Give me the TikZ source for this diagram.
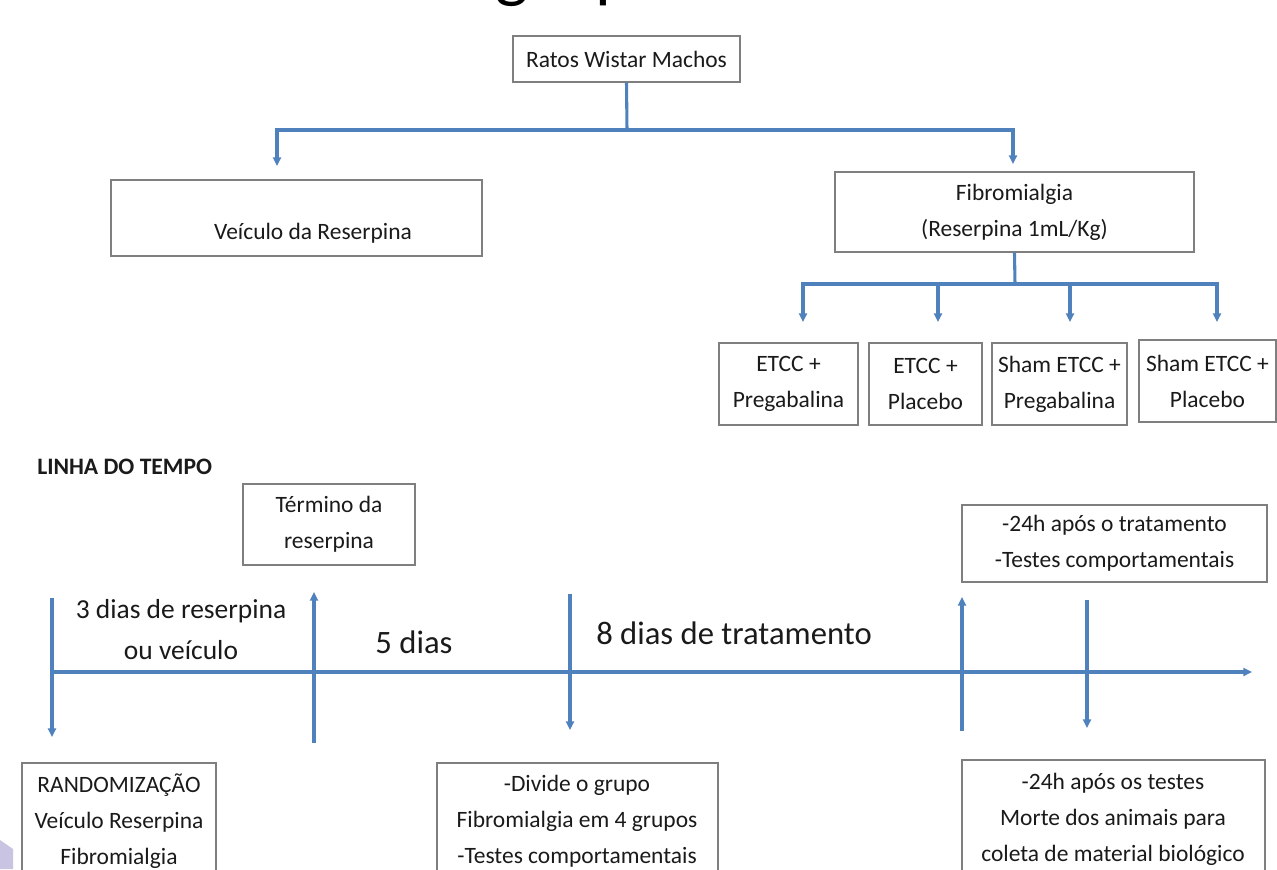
\documentclass[tikz,border=0pt]{standalone}
\usepackage{fontspec}
\setmainfont{Carlito}
\usetikzlibrary{arrows.meta,calc}
\definecolor{lineblue}{HTML}{4F81BD}
\definecolor{boxgray}{HTML}{7F7F7F}
\definecolor{lav}{HTML}{C9C4E2}
\definecolor{ink}{HTML}{1A1A1A}
\begin{document}
\begin{tikzpicture}[x=0.75pt,y=-0.75pt,
  box/.style={draw=boxgray, line width=1pt, inner sep=0pt, align=center, text=ink,
    font=\fontsize{17.6}{27}\selectfont},
  txt/.style={align=center, inner sep=0pt, text=ink, font=\fontsize{17.6}{27}\selectfont},
  big/.style={align=center, inner sep=0pt, text=ink, font=\fontsize{20.6}{30.75}\selectfont},
  bigger/.style={align=center, inner sep=0pt, text=ink, font=\fontsize{24.5}{30}\selectfont},
  titlefont/.style={anchor=base, inner sep=0pt, text=black, font=\fontsize{53}{53}\selectfont},
  conn/.style={draw=lineblue, line width=2.3pt},
  arr/.style={conn, -{Triangle[length=6.5pt,width=6pt]}},
]
\useasboundingbox (0,0) rectangle (1277,869);
\clip (0,0) rectangle (1277,869);

% cut-off title (only descenders visible)
\node[titlefont] (tg) at (512,-6) {g};
\node[titlefont] (tp) at (614,-6) {p};

% lavender corner shape
\fill[lav] (0,840) -- (13,849) -- (13,869) -- (0,869) -- cycle;

% ---- group tree ----
\node[box, minimum width=170.25pt, minimum height=34.5pt] (ratos) at (626.5,59) {Ratos Wistar Machos};
\node[box, minimum width=278.25pt, minimum height=57pt] (veic) at (296.5,218) {};
\node[txt] (veictext) at (313,233) {Veículo da Reserpina};
\node[box, minimum width=269.25pt, minimum height=60pt] (fibro) at (1014.5,212) {Fibromialgia\\(Reserpina 1mL/Kg)};

\node[box, minimum width=104.25pt, minimum height=61.5pt] (g1) at (788.5,384) {ETCC +\\Pregabalina};
\node[box, minimum width=84.75pt, minimum height=61.5pt] (g2) at (925.5,384) {ETCC +\\Placebo};
\node[box, minimum width=101.25pt, minimum height=61.5pt] (g3) at (1059.5,384) {Sham ETCC +\\Pregabalina};
\node[box, minimum width=102.75pt, minimum height=61.5pt] (g4) at (1207.5,381) {Sham ETCC +\\Placebo};

\coordinate (j1) at (627,130);
\coordinate (va) at (277,166);
\coordinate (fa) at (1013,164);
\draw[conn] (ratos.south) -- (j1);
\draw[arr] (j1) -| (va);
\draw[arr] (j1) -| (fa);

\coordinate (j2) at (1015,284);
\coordinate (a1) at (803,322);
\coordinate (a2) at (938,322);
\coordinate (a3) at (1070,322);
\coordinate (a4) at (1217,322);
\draw[conn] (fibro.south) -- (j2);
\draw[arr] (j2) -| (a1);
\draw[arr] (j2) -| (a2);
\draw[arr] (j2) -| (a3);
\draw[arr] (j2) -| (a4);

% ---- timeline ----
\node[anchor=west, inner sep=0pt, text=ink, font=\bfseries\fontsize{17.7}{20}\selectfont] (lt) at (37,467) {LINHA DO TEMPO};

\node[box, minimum width=129pt, minimum height=60.75pt] (term) at (329,524.5) {Término da\\reserpina};
\node[box, minimum width=228.75pt, minimum height=57.75pt] (trat) at (1114.5,543.5) {-24h após o tratamento\\-Testes comportamentais};

\coordinate (t0) at (52,672);
\coordinate (t1) at (1252,672);
\draw[arr] (t0) -- (t1);

\coordinate (v1a) at (52,598);  \coordinate (v1b) at (52,737);
\coordinate (v2a) at (314,743); \coordinate (v2b) at (314,592);
\coordinate (v3a) at (570,594); \coordinate (v3b) at (570,730);
\coordinate (v4a) at (962,731); \coordinate (v4b) at (962,597);
\coordinate (v5a) at (1087,600);\coordinate (v5b) at (1087,728);
\draw[arr] (v1a) -- (v1b);
\draw[arr] (v2a) -- (v2b);
\draw[arr] (v3a) -- (v3b);
\draw[arr] (v4a) -- (v4b);
\draw[arr] (v5a) -- (v5b);

\node[big] (l3) at (181,630) {3 dias de reserpina\\ou veículo};
\node[bigger] (l5) at (414,642) {5 dias};
\node[bigger] (l8) at (734,633) {8 dias de tratamento};

% bottom boxes (cut by page edge)
\node[box, minimum width=145.5pt, minimum height=102.75pt] (rand) at (119,831.5) {};
\node[txt] (randtext) at (119,821) {RANDOMIZAÇÃO\\Veículo Reserpina\\Fibromialgia};
\node[box, minimum width=210.75pt, minimum height=102.75pt] (div) at (577.5,831.5) {};
\node[txt] (divtext) at (577,821) {-Divide o grupo\\Fibromialgia em 4 grupos\\-Testes comportamentais};
\node[box, minimum width=227.25pt, minimum height=105pt] (morte) at (1113.5,830) {};
\node[txt] (mortetext) at (1113,819) {-24h após os testes\\Morte dos animais para\\coleta de material biológico};
\end{tikzpicture}
\end{document}
